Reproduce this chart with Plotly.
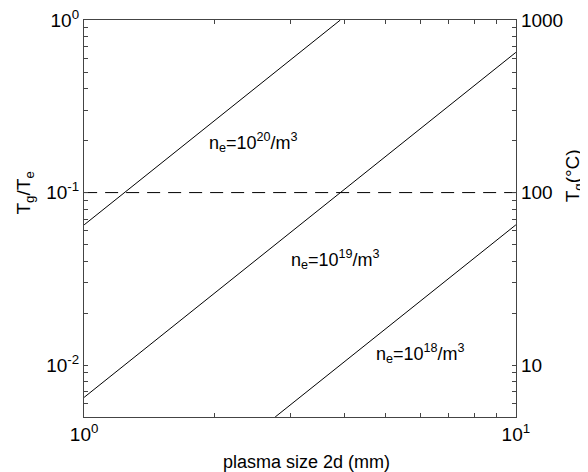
import plotly.graph_objects as go
import math

# Data (straight lines in log-log space)
ne20_x = [1.0, 3.92]
ne20_y = [0.065, 1.0]
ne19_x = [1.0, 10.0]
ne19_y = [0.0065, 0.65]
ne18_x = [2.77, 10.0]
ne18_y = [0.005, 0.065]
threshold_x = [1.0, 10.0]
threshold_y = [0.1, 0.1]

labels = ["n<sub>e</sub>=10<sup>20</sup>/m<sup>3</sup>",
          "n<sub>e</sub>=10<sup>19</sup>/m<sup>3</sup>",
          "n<sub>e</sub>=10<sup>18</sup>/m<sup>3</sup>"]
label_x = [2.47, 3.82, 6.0]
label_y = [0.194, 0.041, 0.0116]

x_ticks = [1, 10]
x_ticktext = ["10<sup>0</sup>", "10<sup>1</sup>"]
y_ticks = [0.01, 0.1, 1]
y_ticktext = ["10<sup>-2</sup>", "10<sup>-1</sup>", "10<sup>0</sup>"]
y2_ticks = [10, 100, 1000]
y2_ticktext = ["10", "100", "1000"]

FONT = "Liberation Sans, Arial, sans-serif"
fig = go.Figure()
line = dict(color="black", width=1)
for xs, ys in [(ne20_x, ne20_y), (ne19_x, ne19_y), (ne18_x, ne18_y)]:
    fig.add_trace(go.Scatter(x=xs, y=ys, mode="lines", line=line, showlegend=False, hoverinfo="skip"))
fig.add_trace(go.Scatter(x=threshold_x, y=threshold_y, mode="lines",
                         line=dict(color="black", width=1, dash="13px,8px"), showlegend=False))
fig.add_trace(go.Scatter(x=[1, 10], y=[100, 100], mode="lines", yaxis="y2",
                         line=dict(width=0), opacity=0, showlegend=False, hoverinfo="skip"))

for t, lx, ly in zip(labels, label_x, label_y):
    fig.add_annotation(x=math.log10(lx), y=math.log10(ly), text=t, showarrow=False,
                       xanchor="center", yanchor="middle",
                       font=dict(size=18, color="black", family=FONT))

# axis titles
fig.add_annotation(xref="paper", yref="paper", x=0.516, y=-0.113, xanchor="center", yanchor="middle",
                   showarrow=False, text="plasma size 2d (mm)",
                   font=dict(size=18, family=FONT, color="black"))
fig.add_annotation(xref="paper", yref="paper", x=-0.137, y=0.565, xanchor="center", yanchor="middle",
                   textangle=-90, showarrow=False, text="T<sub>g</sub>/T<sub>e</sub>",
                   font=dict(size=19, family=FONT, color="black"))
fig.add_annotation(xref="paper", yref="paper", x=1.135, y=0.607, xanchor="center", yanchor="middle",
                   textangle=-90, showarrow=False, text="T<sub>g</sub>(°C)",
                   font=dict(size=19, family=FONT, color="black"))

def with_minor(majors, minors, texts):
    vals = list(majors) + list(minors)
    txt = list(texts) + [""] * len(minors)
    return vals, txt

minor_x = [m for m in range(2, 10)]
minor_y = [d * m for d in [0.001, 0.01, 0.1] for m in range(2, 10)]
minor_y2 = [d * m for d in [1, 10, 100] for m in range(2, 10)]

xv, xt = with_minor(x_ticks, minor_x, x_ticktext)
yv, yt = with_minor(y_ticks, minor_y, y_ticktext)
y2v, y2t = with_minor(y2_ticks, minor_y2, y2_ticktext)

axis_common = dict(showline=True, linecolor="#444", linewidth=1.2, ticks="inside",
                   ticklen=4, tickcolor="#444", showgrid=False, zeroline=False, automargin=False,
                   ticklabeloverflow="allow",
                   tickfont=dict(size=19, color="black", family=FONT))

fig.update_layout(
    width=580, height=464,
    margin=dict(l=76, r=72, t=12, b=55),
    paper_bgcolor="white", plot_bgcolor="white",
    font=dict(family=FONT, color="black"),
    xaxis=dict(type="log", range=[-0.0003, 1.0003], tickmode="array", tickvals=xv, ticktext=xt,
               mirror="ticks", **axis_common),
    yaxis=dict(type="log", range=[math.log10(0.005), 0.0005], tickmode="array", tickvals=yv,
               ticktext=yt, **axis_common),
    yaxis2=dict(type="log", range=[math.log10(5), 3.0005], overlaying="y", side="right", anchor="x",
                tickmode="array", tickvals=y2v, ticktext=y2t, **axis_common),
)

fig.write_html("out.html")
